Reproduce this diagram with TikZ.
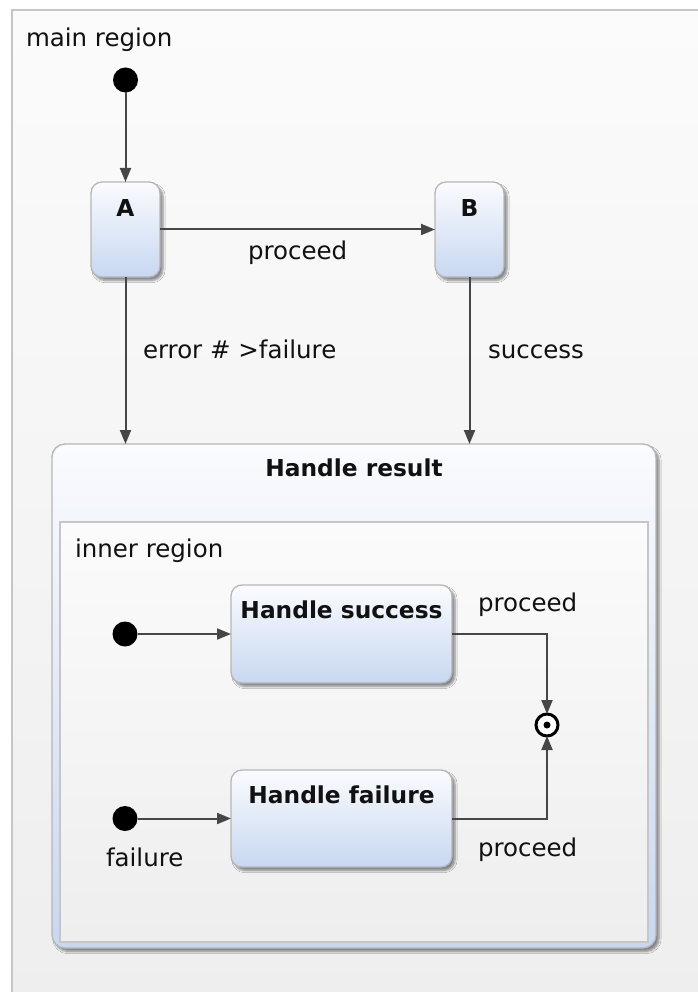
\documentclass[tikz,border=0pt]{standalone}
\usepackage{fontspec}
\setmainfont{DejaVu Sans}
\usetikzlibrary{arrows.meta,shadows.blur}

\definecolor{framegray}{HTML}{C6C6C6}
\definecolor{regiontop}{HTML}{FBFBFB}
\definecolor{regionbot}{HTML}{EEEEEE}
\definecolor{statetop}{HTML}{FAFBFE}
\definecolor{statebot}{HTML}{C8D8F1}
\definecolor{stateborder}{HTML}{B6B6B6}
\definecolor{wire}{HTML}{464646}
\definecolor{ink}{HTML}{111111}

\tikzset{
  every node/.style={inner sep=0pt, outer sep=0pt},
  txt/.style={font=\fontsize{24.5}{28}\selectfont, text=ink},
  ttl/.style={font=\fontsize{23.3}{27}\selectfont\bfseries, text=ink},
  statebox/.style={rectangle, draw=stateborder, line width=1.3pt,
    rounded corners=11pt, top color=statetop, bottom color=statebot,
    blur shadow={shadow xshift=3pt, shadow yshift=-3.5pt,
      shadow blur steps=6, shadow opacity=45}},
  regionbox/.style={rectangle, draw=framegray, line width=1.3pt,
    top color=regiontop, bottom color=regionbot},
  initial/.style={circle, fill=black, minimum size=25pt},
  finalstate/.style={circle, draw=black, line width=3pt, fill=white,
    minimum size=22pt},
  trans/.style={draw=wire, line width=2pt,
    -{Triangle[length=14pt,width=11pt]}},
}

\begin{document}
\begin{tikzpicture}[x=1pt, y=-1pt]
  \useasboundingbox (0,0) rectangle (697,992);
  \fill[white] (0,0) rectangle (697,992);

  % main region
  \node[regionbox, minimum width=720pt, minimum height=1000pt, anchor=north west]
    (main) at (12,10) {};
  \node[txt, anchor=base west] (mainlbl) at (26,47) {main region};

  % top-level states
  \node[initial] (i0) at (125.5,80) {};
  \node[statebox, minimum width=69pt, minimum height=95pt] (a) at (125.5,229.5) {};
  \node[ttl] (atitle) at ([yshift=-26pt]a.north) {A};
  \node[statebox, minimum width=69pt, minimum height=95pt] (b) at (469.5,229.5) {};
  \node[ttl] (btitle) at ([yshift=-26pt]b.north) {B};

  % composite state
  \node[statebox, rounded corners=13pt, minimum width=604pt, minimum height=504pt]
    (hr) at (354,696) {};
  \node[ttl] (hrtitle) at ([yshift=-24pt]hr.north) {Handle result};
  \node[regionbox, minimum width=588pt, minimum height=420pt] (inner) at (354,732) {};
  \node[txt, anchor=base west] (innerlbl) at (75,557.5) {inner region};

  % inner states
  \node[initial] (i1) at (125,634) {};
  \node[initial] (i2) at (125,818.5) {};
  \node[statebox, minimum width=221pt, minimum height=98pt] (hs) at (341.5,634) {};
  \node[ttl] (hstitle) at ([yshift=-25pt]hs.north) {Handle success};
  \node[statebox, minimum width=221pt, minimum height=97pt] (hf) at (341.5,818.5) {};
  \node[ttl] (hftitle) at ([yshift=-25pt]hf.north) {Handle failure};
  \node[finalstate] (fin) at (547,725) {};
  \fill (fin) circle (3.5pt);

  % transitions
  \draw[trans] (i0) -- (a);
  \draw[trans] (a.east) -- (b.west);
  \draw[trans] (a.south) -- (a.south |- hr.north);
  \draw[trans] (b.south) -- (b.south |- hr.north);
  \draw[trans] (i1) -- (hs.west);
  \draw[trans] (i2) -- (hf.west);
  \draw[trans] (hs.east) -| (fin.north);
  \draw[trans] (hf.east) -| (fin.south);

  % transition labels
  \node[txt, anchor=base west] (l1) at (248,259) {proceed};
  \node[txt, anchor=base west] (l2) at (143,358) {error \# >failure};
  \node[txt, anchor=base west] (l3) at (488,358) {success};
  \node[txt, anchor=base west] (l4) at (478,611) {proceed};
  \node[txt, anchor=base west] (l5) at (478,856) {proceed};
  \node[txt, anchor=base west] (l6) at (106,866) {failure};
\end{tikzpicture}
\end{document}
